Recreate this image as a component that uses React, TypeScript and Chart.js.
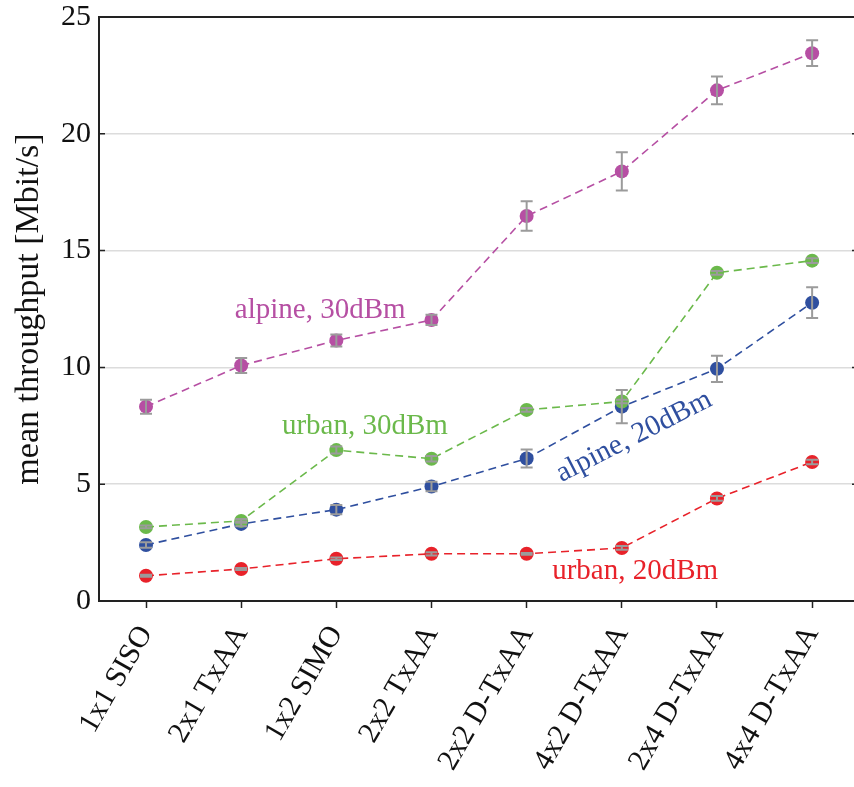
import React, { useEffect, useRef } from "react";
import { Chart, registerables } from "chart.js";

Chart.register(...registerables);

const CATEGORIES = [
  "1x1 SISO",
  "2x1 TxAA",
  "1x2 SIMO",
  "2x2 TxAA",
  "2x2 D-TxAA",
  "4x2 D-TxAA",
  "2x4 D-TxAA",
  "4x4 D-TxAA",
];

const ALPINE_30 = [8.32, 10.08, 11.15, 12.03, 16.48, 18.39, 21.86, 23.45];
const ALPINE_30_ERR = [0.3, 0.32, 0.26, 0.22, 0.63, 0.82, 0.59, 0.55];
const URBAN_30 = [3.17, 3.43, 6.46, 6.09, 8.18, 8.54, 14.05, 14.57];
const URBAN_30_ERR = [0.06, 0.08, 0.15, 0.12, 0.08, 0.08, 0.08, 0.1];
const ALPINE_20 = [2.4, 3.3, 3.91, 4.9, 6.1, 8.32, 9.94, 12.77];
const ALPINE_20_ERR = [0.12, 0.1, 0.2, 0.2, 0.39, 0.71, 0.56, 0.66];
const URBAN_20 = [1.08, 1.37, 1.81, 2.02, 2.02, 2.27, 4.39, 5.95];
const URBAN_20_ERR = [0.04, 0.04, 0.05, 0.07, 0.04, 0.08, 0.1, 0.1];

const Y_TICKS = [0, 5, 10, 15, 20, 25];

const COLORS = {
  alpine30: "#b64fa3",
  urban30: "#6bb94b",
  alpine20: "#2f4f9f",
  urban20: "#e8222a",
};

// annotation labels: text, x (category index), y (value), rotation (deg)
const LABEL_TEXT = ["alpine, 30dBm", "urban, 30dBm", "alpine, 20dBm", "urban, 20dBm"];
const LABEL_X = [1.83, 2.3, 5.13, 5.14];
const LABEL_Y = [12.46, 7.46, 7.03, 1.26];
const LABEL_ROT = [0, 0, -27, 0];
const LABEL_COLOR = [COLORS.alpine30, COLORS.urban30, COLORS.alpine20, COLORS.urban20];

const FONT = "'Liberation Serif', 'Times New Roman', serif";

export default function App() {
  const ref = useRef<HTMLCanvasElement | null>(null);

  useEffect(() => {
    if (!ref.current) return;
    const toPoints = (arr: number[]) => arr.map((v, i) => ({ x: i, y: v }));
    const errs = [ALPINE_30_ERR, URBAN_30_ERR, ALPINE_20_ERR, URBAN_20_ERR];

    const mk = (label: string, data: number[], color: string) => ({
      label,
      data: toPoints(data),
      borderColor: color,
      backgroundColor: color,
      pointBackgroundColor: color,
      pointBorderColor: color,
      pointBorderWidth: 0,
      pointRadius: 7,
      borderWidth: 1.6,
      borderDash: [8, 5],
      showLine: true,
      fill: false,
      tension: 0,
    });

    const errorBars = {
      id: "errorBars",
      afterDatasetsDraw(chart: any) {
        const ctx = chart.ctx;
        const ys = chart.scales.y;
        ctx.save();
        ctx.strokeStyle = "#9b9b9b";
        ctx.lineWidth = 2;
        chart.data.datasets.forEach((ds: any, i: number) => {
          const meta = chart.getDatasetMeta(i);
          meta.data.forEach((pt: any, j: number) => {
            const v = ds.data[j].y;
            const e = errs[i][j];
            const x = pt.x;
            const y1 = ys.getPixelForValue(v + e);
            const y2 = ys.getPixelForValue(v - e);
            ctx.beginPath();
            ctx.moveTo(x, y1);
            ctx.lineTo(x, y2);
            ctx.moveTo(x - 6, y1);
            ctx.lineTo(x + 6, y1);
            ctx.moveTo(x - 6, y2);
            ctx.lineTo(x + 6, y2);
            ctx.stroke();
          });
        });
        ctx.restore();
      },
    };

    const decorations = {
      id: "decorations",
      afterDraw(chart: any) {
        const ctx = chart.ctx;
        const xs = chart.scales.x;
        const ys = chart.scales.y;
        const area = chart.chartArea;
        ctx.save();
        // inward y ticks
        ctx.strokeStyle = "#222";
        ctx.lineWidth = 1.5;
        Y_TICKS.slice(1, -1).forEach((t) => {
          const y = ys.getPixelForValue(t);
          ctx.beginPath();
          ctx.moveTo(area.left, y);
          ctx.lineTo(area.left + 6, y);
          ctx.moveTo(area.right - 2, y);
          ctx.lineTo(area.right, y);
          ctx.stroke();
        });
        // labels
        ctx.font = `29px ${FONT}`;
        ctx.textAlign = "center";
        ctx.textBaseline = "middle";
        LABEL_TEXT.forEach((txt, i) => {
          const x = xs.getPixelForValue(LABEL_X[i]);
          const y = ys.getPixelForValue(LABEL_Y[i]);
          ctx.save();
          ctx.translate(x, y);
          ctx.rotate((LABEL_ROT[i] * Math.PI) / 180);
          ctx.fillStyle = LABEL_COLOR[i];
          ctx.fillText(txt, 0, 0);
          ctx.restore();
        });
        ctx.restore();
      },
    };

    const chart = new Chart(ref.current, {
      type: "scatter",
      data: {
        datasets: [
          mk("alpine, 30dBm", ALPINE_30, COLORS.alpine30),
          mk("urban, 30dBm", URBAN_30, COLORS.urban30),
          mk("alpine, 20dBm", ALPINE_20, COLORS.alpine20),
          mk("urban, 20dBm", URBAN_20, COLORS.urban20),
        ],
      },
      options: {
        responsive: false,
        animation: false,
        layout: { autoPadding: false, padding: { top: 17, right: 0, bottom: 0, left: 0 } },
        plugins: {
          legend: { display: false },
          tooltip: { enabled: false },
        },
        scales: {
          x: {
            type: "linear",
            min: -0.494,
            max: 7.44,
            afterBuildTicks: (scale: any) => {
              scale.ticks = CATEGORIES.map((_, i) => ({ value: i }));
            },
            afterFit: (scale: any) => {
              scale.height = 186;
              scale.paddingLeft = 0;
              scale.paddingRight = 0;
            },
            ticks: {
              autoSkip: false,
              minRotation: 60,
              maxRotation: 60,
              padding: 13,
              color: "#111",
              font: { family: FONT, size: 30, lineHeight: 1 },
              callback: (v: any) => CATEGORIES[Math.round(Number(v))] ?? "",
            },
            grid: {
              drawOnChartArea: false,
              drawTicks: true,
              tickLength: 7,
              tickColor: "#222",
              tickWidth: 1.5,
            },
            border: { display: true, color: "#222", width: 2 },
          },
          y: {
            type: "linear",
            min: 0,
            max: 25,
            afterBuildTicks: (scale: any) => {
              scale.ticks = Y_TICKS.map((v) => ({ value: v }));
            },
            afterFit: (scale: any) => {
              scale.width = 99;
              scale.paddingTop = 0;
              scale.paddingBottom = 0;
            },
            ticks: {
              padding: 8,
              color: "#111",
              font: { family: FONT, size: 30, lineHeight: 1 },
            },
            grid: {
              drawTicks: false,
              color: (c: any) =>
                c.tick && c.tick.value === 25
                  ? "#222"
                  : c.tick && c.tick.value === 0
                  ? "rgba(0,0,0,0)"
                  : "#dcdcdc",
              lineWidth: (c: any) => (c.tick && c.tick.value === 25 ? 2 : 1.5),
            },
            border: { display: true, color: "#222", width: 2 },
            title: {
              display: true,
              text: "mean throughput [Mbit/s]",
              color: "#111",
              font: { family: FONT, size: 34, lineHeight: 1.2 },
              padding: { top: 9, bottom: 0 },
            },
          },
        },
      },
      plugins: [errorBars, decorations],
    });
    return () => chart.destroy();
  }, []);

  return (
    <div style={{ position: "absolute", left: 0, top: 0, width: 854, height: 787, background: "#fff" }}>
      <canvas ref={ref} width={854} height={787} style={{ display: "block" }} />
    </div>
  );
}
